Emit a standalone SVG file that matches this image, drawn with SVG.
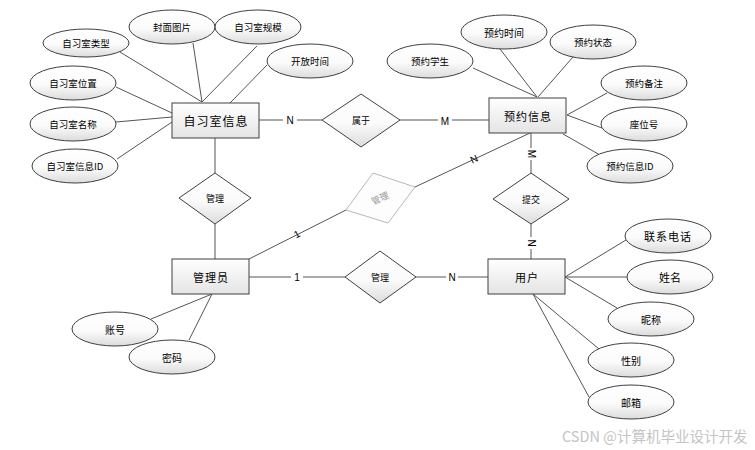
<svg xmlns="http://www.w3.org/2000/svg" width="755" height="450" viewBox="0 0 755 450">
<defs>
<linearGradient id="gEnt" x1="0" y1="0" x2="0" y2="1">
<stop offset="0" stop-color="#ffffff"/><stop offset="1" stop-color="#e4e4e4"/>
</linearGradient>
<linearGradient id="gEll" x1="0" y1="0" x2="0" y2="1">
<stop offset="0" stop-color="#ffffff"/><stop offset="0.55" stop-color="#fbfbfb"/><stop offset="1" stop-color="#dcdcdc"/>
</linearGradient>
</defs>
<style>
.ent{fill:url(#gEnt);stroke:#404040;stroke-width:1}
.att{fill:url(#gEll);stroke:#404040;stroke-width:1}
.rel{fill:url(#gEll);stroke:#404040;stroke-width:1}
.relg{fill:#fdfdfd;stroke:#b8b8b8;stroke-width:1}
.ln{stroke:#555;stroke-width:1;fill:none}
.t{font-family:"Noto Sans CJK SC","Liberation Sans",sans-serif;fill:#000;text-anchor:middle;dominant-baseline:central}
.te{font-size:12px;letter-spacing:1px}
.ta{font-size:9.5px}
.tb{font-size:11px}
.tr{font-size:9px}
.lb{font-family:"Liberation Sans",sans-serif;font-size:10px;fill:#000;text-anchor:middle;dominant-baseline:central}
.wm{font-family:"Noto Sans CJK SC","Liberation Sans",sans-serif;font-size:14.5px;fill:#c4c4c4}
</style>
<rect width="755" height="450" fill="#ffffff"/>
<g id="connectors">
<line class="ln" x1="120" y1="52" x2="202" y2="102"/>
<line class="ln" x1="193" y1="43" x2="202" y2="102"/>
<line class="ln" x1="257" y1="46" x2="202" y2="102"/>
<line class="ln" x1="267" y1="65" x2="230" y2="103"/>
<line class="ln" x1="116" y1="87" x2="172" y2="113"/>
<line class="ln" x1="116" y1="122" x2="172" y2="117"/>
<line class="ln" x1="117" y1="159" x2="172" y2="122"/>
<line class="ln" x1="259" y1="120" x2="322" y2="120"/>
<line class="ln" x1="400" y1="120" x2="489" y2="120"/>
<line class="ln" x1="473" y1="68" x2="537" y2="97"/>
<line class="ln" x1="500" y1="49" x2="537" y2="97"/>
<line class="ln" x1="573" y1="57" x2="538" y2="97"/>
<line class="ln" x1="607" y1="93" x2="567" y2="115"/>
<line class="ln" x1="602" y1="128" x2="567" y2="115"/>
<line class="ln" x1="600" y1="155" x2="563" y2="134"/>
<line class="ln" x1="531" y1="133" x2="531" y2="173"/>
<line class="ln" x1="530" y1="133" x2="415" y2="187"/>
<line class="ln" x1="215" y1="138" x2="215" y2="173"/>
<line class="ln" x1="215" y1="224" x2="215" y2="259"/>
<line class="ln" x1="249" y1="259" x2="346" y2="210"/>
<line class="ln" x1="249" y1="277" x2="345" y2="277"/>
<line class="ln" x1="416" y1="277" x2="488" y2="277"/>
<line class="ln" x1="531" y1="224" x2="531" y2="259"/>
<line class="ln" x1="626" y1="240" x2="565" y2="277"/>
<line class="ln" x1="627" y1="277" x2="565" y2="277"/>
<line class="ln" x1="617" y1="308" x2="565" y2="277"/>
<line class="ln" x1="599" y1="349" x2="533" y2="294"/>
<line class="ln" x1="589" y1="397" x2="533" y2="294"/>
<line class="ln" x1="151" y1="319" x2="212" y2="294"/>
<line class="ln" x1="189" y1="340" x2="212" y2="294"/>
<rect x="283" y="114" width="14" height="12" fill="#fff"/>
<text class="lb" x="290" y="120">N</text>
<rect x="438" y="115" width="14" height="12" fill="#fff"/>
<text class="lb" x="445" y="121">M</text>
<rect x="525" y="148" width="12" height="12" fill="#fff"/>
<text class="lb" x="531" y="154" transform="rotate(90 531 154)">M</text>
<text class="lb" x="474" y="159" transform="rotate(-25 474 159)">N</text>
<text class="lb" x="297" y="234" transform="rotate(-27 297 234)">1</text>
<rect x="291" y="271" width="12" height="12" fill="#fff"/>
<text class="lb" x="297" y="277">1</text>
<rect x="446" y="271" width="12" height="12" fill="#fff"/>
<text class="lb" x="452" y="277">N</text>
<rect x="525" y="237" width="12" height="12" fill="#fff"/>
<text class="lb" x="531" y="243" transform="rotate(90 531 243)">N</text>
</g>
<g id="n-zixishi">
<rect class="ent" x="172" y="103" width="87" height="35"/>
<text class="t te" x="216" y="120">自习室信息</text>
</g>
<g id="a-leixing"><ellipse class="att" cx="86" cy="43" rx="43" ry="14"/><text class="t ta" x="86" y="43">自习室类型</text></g>
<g id="a-fengmian"><ellipse class="att" cx="172" cy="27" rx="43" ry="17"/><text class="t ta" x="172" y="27">封面图片</text></g>
<g id="a-guimo"><ellipse class="att" cx="258" cy="27" rx="43" ry="17"/><text class="t ta" x="258" y="27">自习室规模</text></g>
<g id="a-kaifang"><ellipse class="att" cx="310" cy="61" rx="43" ry="17"/><text class="t ta" x="310" y="61">开放时间</text></g>
<g id="a-weizhi"><ellipse class="att" cx="73" cy="83" rx="43" ry="17"/><text class="t ta" x="73" y="83">自习室位置</text></g>
<g id="a-mingcheng"><ellipse class="att" cx="73" cy="124" rx="43" ry="17"/><text class="t ta" x="73" y="124">自习室名称</text></g>
<g id="a-zid"><ellipse class="att" cx="75" cy="166" rx="43" ry="17"/><text class="t ta" x="75" y="166">自习室信息ID</text></g>
<g id="r-shuyu">
<polygon class="rel" points="361,94 400,120 361,147 322,120"/>
<text class="t tr" x="361" y="120">属于</text>
</g>
<g id="n-yuyue">
<rect class="ent" x="489" y="98" width="77" height="35"/>
<text class="t te" x="528" y="116" style="font-size:11px">预约信息</text>
</g>
<g id="a-xuesheng"><ellipse class="att" cx="430" cy="61" rx="43" ry="17"/><text class="t ta" x="430" y="61">预约学生</text></g>
<g id="a-shijian"><ellipse class="att" cx="504" cy="32" rx="43" ry="17"/><text class="t tb" x="504" y="32" style="font-size:10px">预约时间</text></g>
<g id="a-zhuangtai"><ellipse class="att" cx="593" cy="42" rx="43" ry="17"/><text class="t ta" x="593" y="42">预约状态</text></g>
<g id="a-beizhu"><ellipse class="att" cx="644" cy="83" rx="43" ry="17"/><text class="t ta" x="644" y="83">预约备注</text></g>
<g id="a-zuowei"><ellipse class="att" cx="644" cy="124" rx="43" ry="17"/><text class="t ta" x="644" y="124">座位号</text></g>
<g id="a-yid"><ellipse class="att" cx="630" cy="166" rx="43" ry="17"/><text class="t ta" x="630" y="166">预约信息ID</text></g>
<g id="r-guanli1">
<polygon class="rel" points="215,173 251,198 215,224 179,198"/>
<text class="t tr" x="215" y="198">管理</text>
</g>
<g id="r-guanli-gray">
<polygon class="relg" points="373,173 415,187 388,223 346,210"/>
<text class="t tr" x="380" y="198" style="fill:#999" transform="rotate(-25 380 198)">管理</text>
</g>
<g id="n-guanliyuan">
<rect class="ent" x="172" y="259" width="77" height="35"/>
<text class="t te" x="211" y="277" style="font-size:11px">管理员</text>
</g>
<g id="a-zhanghao"><ellipse class="att" cx="115" cy="329" rx="43" ry="17"/><text class="t tb" x="115" y="329" style="font-size:10px">账号</text></g>
<g id="a-mima"><ellipse class="att" cx="172" cy="357" rx="43" ry="17"/><text class="t tb" x="172" y="357" style="font-size:10px">密码</text></g>
<g id="r-guanli2">
<polygon class="rel" points="380,251 416,277 380,303 345,277"/>
<text class="t tr" x="380" y="277">管理</text>
</g>
<g id="r-tijiao">
<polygon class="rel" points="531,173 569,199 531,224 493,199"/>
<text class="t tr" x="531" y="199">提交</text>
</g>
<g id="n-yonghu">
<rect class="ent" x="488" y="259" width="77" height="35"/>
<text class="t te" x="527" y="277" style="font-size:11px">用户</text>
</g>
<g id="a-dianhua"><ellipse class="att" cx="668" cy="236" rx="43" ry="17"/><text class="t tb" x="668" y="236" style="letter-spacing:1px">联系电话</text></g>
<g id="a-xingming"><ellipse class="att" cx="670" cy="277" rx="43" ry="17"/><text class="t tb" x="670" y="277">姓名</text></g>
<g id="a-nicheng"><ellipse class="att" cx="651" cy="319" rx="43" ry="17"/><text class="t tb" x="651" y="319" style="font-size:10px">昵称</text></g>
<g id="a-xingbie"><ellipse class="att" cx="631" cy="360" rx="43" ry="17"/><text class="t tb" x="631" y="360" style="font-size:10px">性别</text></g>
<g id="a-youxiang"><ellipse class="att" cx="631" cy="402" rx="43" ry="17"/><text class="t tb" x="631" y="402" style="font-size:10px">邮箱</text></g>
<text class="wm" x="562" y="442">CSDN @计算机毕业设计开发</text>
</svg>
